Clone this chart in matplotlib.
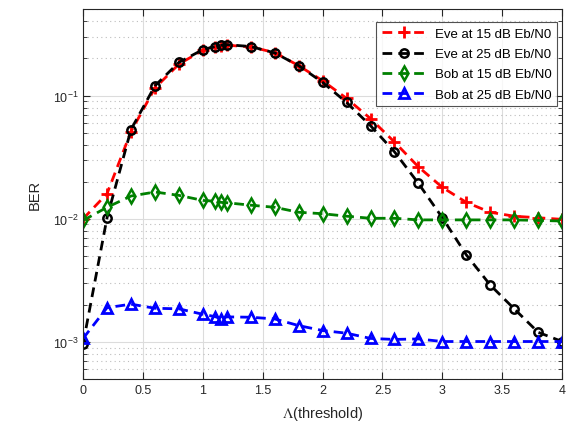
import matplotlib
matplotlib.use("Agg")
import matplotlib.pyplot as plt
from matplotlib.ticker import LogLocator, NullFormatter

plt.rcParams["font.family"] = ["Liberation Sans", "DejaVu Sans"]
plt.rcParams["mathtext.fontset"] = "stix"

threshold = [0, 0.2, 0.4, 0.6, 0.8, 1.0, 1.1, 1.15, 1.2, 1.4, 1.6, 1.8, 2.0,
             2.2, 2.4, 2.6, 2.8, 3.0, 3.2, 3.4, 3.6, 3.8, 4.0]

eve_15 = [0.0100, 0.0160, 0.051, 0.115, 0.180, 0.233, 0.248, 0.253, 0.256,
          0.249, 0.223, 0.175, 0.132, 0.095, 0.065, 0.042, 0.0264, 0.0180,
          0.0136, 0.0113, 0.0105, 0.0102, 0.0099]
eve_25 = [0.00097, 0.0102, 0.053, 0.120, 0.186, 0.236, 0.250, 0.256, 0.259,
          0.250, 0.222, 0.175, 0.128, 0.088, 0.057, 0.035, 0.0194, 0.0102,
          0.0051, 0.0029, 0.00186, 0.0012, 0.00101]
bob_15 = [0.0097, 0.0124, 0.0153, 0.0165, 0.0155, 0.0141, 0.0139, 0.0136,
          0.0135, 0.0129, 0.0124, 0.0113, 0.0110, 0.0105, 0.0101, 0.0101,
          0.0098, 0.0098, 0.0098, 0.0098, 0.0098, 0.0097, 0.0096]
bob_25 = [0.00107, 0.00190, 0.00203, 0.00188, 0.00186, 0.00168, 0.00161,
          0.00155, 0.00160, 0.00159, 0.00154, 0.00136, 0.00124, 0.00118,
          0.00107, 0.00105, 0.00106, 0.00101, 0.00101, 0.00101, 0.00101,
          0.00101, 0.00101]

fig = plt.figure(figsize=(5.73, 4.31), dpi=100)
ax = fig.add_axes([0.145, 0.118, 0.836, 0.859])

dash = (0, (3.5, 2.2))
lw = 2.0
ax.plot(threshold, eve_15, color="#ff0000", linestyle=dash, linewidth=lw,
        marker="+", markersize=9, markeredgewidth=2.0,
        label="Eve at 15 dB Eb/N0")
ax.plot(threshold, eve_25, color="black", linestyle=dash, linewidth=lw,
        marker="o", markersize=6, markerfacecolor="none", markeredgewidth=1.8,
        label="Eve at 25 dB Eb/N0")
ax.plot(threshold, bob_15, color="#008000", linestyle=dash, linewidth=lw,
        marker="d", markersize=7, markerfacecolor="none", markeredgewidth=1.8,
        label="Bob at 15 dB Eb/N0")
ax.plot(threshold, bob_25, color="#0000ff", linestyle=dash, linewidth=lw,
        marker="^", markersize=7, markerfacecolor="none", markeredgewidth=2.0,
        label="Bob at 25 dB Eb/N0")

ax.set_yscale("log")
ax.set_xlim(0, 4)
ax.set_ylim(5e-4, 0.505)
ax.set_xticks([0, 0.5, 1, 1.5, 2, 2.5, 3, 3.5, 4])
ax.set_xticklabels(["0", "0.5", "1", "1.5", "2", "2.5", "3", "3.5", "4"])
ax.yaxis.set_major_locator(LogLocator(base=10, numticks=10))
ax.yaxis.set_minor_locator(LogLocator(base=10, subs=range(2, 10), numticks=10))
ax.yaxis.set_minor_formatter(NullFormatter())

ax.grid(True, which="major", color="#dcdcdc", linewidth=0.8)
ax.grid(True, which="minor", axis="y", color="#bdbdbd", linestyle=(0, (1, 3)),
        linewidth=0.8)
ax.set_axisbelow(True)

ax.tick_params(which="both", direction="in", top=True, right=True,
               labelsize=9, colors="#262626")
ax.tick_params(which="major", length=5)
ax.tick_params(which="minor", length=3)
for spine in ax.spines.values():
    spine.set_color("#262626")
    spine.set_linewidth(0.8)

ax.set_xlabel(r"$\Lambda$(threshold)", fontsize=10.5, color="#262626", labelpad=6)
ax.set_ylabel("BER", fontsize=10.5, color="#262626", labelpad=8)

leg = ax.legend(loc="upper right", bbox_to_anchor=(0.99, 0.965), fontsize=9.5,
                handlelength=3.4, handletextpad=0.6, frameon=True,
                fancybox=False, borderaxespad=0.0, labelspacing=0.6,
                borderpad=0.45)
leg.get_frame().set_edgecolor("#262626")
leg.get_frame().set_linewidth(0.8)

fig.savefig("out.png", dpi=100)
